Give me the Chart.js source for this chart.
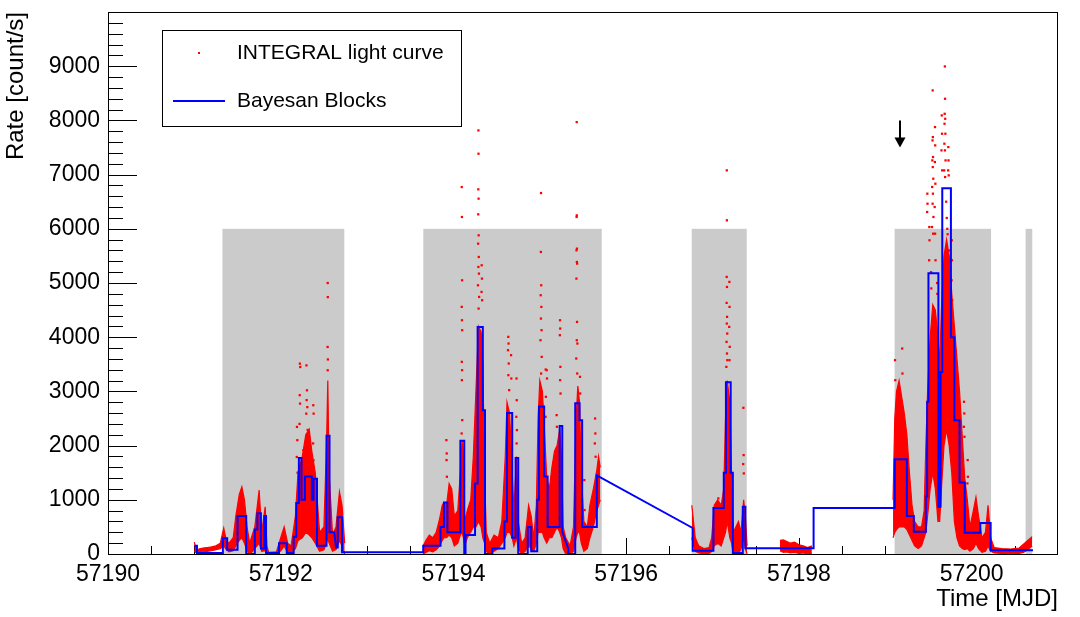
<!DOCTYPE html>
<html>
<head>
<meta charset="utf-8">
<title>INTEGRAL light curve</title>
<script src="https://cdn.jsdelivr.net/npm/chart.js@4.4.1/dist/chart.umd.min.js"></script>
<style>
  html, body { margin: 0; padding: 0; background: #fff; }
</style>
</head>
<body>
<canvas id="lcChart" width="1080" height="617"></canvas>
<script>
// axis labels
const xTickLabels = [57190, 57192, 57194, 57196, 57198, 57200];
const yTickLabels = [0, 1000, 2000, 3000, 4000, 5000, 6000, 7000, 8000, 9000];

// grey windows (MJD) drawn up to gtiTop
const gtiStart = [57191.325, 57193.651, 57196.759, 57199.108, 57200.625];
const gtiEnd = [57192.736, 57195.717, 57197.396, 57200.225, 57200.702];
const gtiTop = 6000;

// light curve: dense part read as a lower / upper envelope, null = no data
const lcTime = [
  57191.00, 57191.02, 57191.05, 57191.10, 57191.15, 57191.20, 57191.25, 57191.30, 57191.34, 57191.37,
  57191.40, 57191.45, 57191.48, 57191.52, 57191.55, 57191.58, 57191.61, 57191.64, 57191.67, 57191.70,
  57191.75, 57191.78, 57191.82, 57191.84, 57191.86, 57191.95, 57192.00, 57192.04, 57192.08, 57192.12,
  57192.17, 57192.20, 57192.25, 57192.29, 57192.33, 57192.36, 57192.40, 57192.45, 57192.50, 57192.53,
  57192.545, 57192.56, 57192.60, 57192.64, 57192.68, 57192.71, 57192.74,
  57193.20,
  57193.65, 57193.68, 57193.72, 57193.76, 57193.80, 57193.84, 57193.87, 57193.89, 57193.92, 57193.95,
  57193.98, 57194.01, 57194.05, 57194.08, 57194.10, 57194.115, 57194.13, 57194.16, 57194.20, 57194.23,
  57194.26, 57194.29, 57194.32, 57194.34, 57194.36, 57194.38, 57194.42, 57194.47, 57194.52, 57194.56,
  57194.60, 57194.62, 57194.65, 57194.68, 57194.70, 57194.73, 57194.75, 57194.79, 57194.83, 57194.87,
  57194.90, 57194.93, 57194.96, 57194.98, 57195.00, 57195.03, 57195.05, 57195.08, 57195.11, 57195.14,
  57195.17, 57195.20, 57195.23, 57195.25, 57195.27, 57195.30, 57195.35, 57195.39, 57195.42, 57195.44,
  57195.46, 57195.48, 57195.51, 57195.55, 57195.58, 57195.62, 57195.66, 57195.68, 57195.70,
  57196.20,
  57196.76, 57196.78, 57196.80, 57196.84, 57196.90, 57196.96, 57196.99, 57197.02, 57197.06, 57197.10,
  57197.13, 57197.15, 57197.17, 57197.20, 57197.22, 57197.24, 57197.27, 57197.30, 57197.33, 57197.36,
  57197.38, 57197.40,
  57197.60,
  57197.78, 57197.82, 57197.86, 57197.90, 57197.95, 57198.00, 57198.05, 57198.10, 57198.15,
  57198.60,
  57199.09, 57199.11, 57199.13, 57199.16, 57199.19, 57199.22, 57199.25, 57199.28, 57199.31, 57199.34,
  57199.38, 57199.42, 57199.45, 57199.47, 57199.49, 57199.52, 57199.55, 57199.58, 57199.61, 57199.63,
  57199.65, 57199.68, 57199.71, 57199.74, 57199.77, 57199.80, 57199.83, 57199.86, 57199.89, 57199.92,
  57199.95, 57199.98, 57200.02, 57200.05, 57200.08, 57200.12, 57200.16, 57200.19, 57200.22, 57200.26,
  57200.35, 57200.45, 57200.55, 57200.60, 57200.65, 57200.70
];
const lcLow = [
  60, 20, 30, 40, 50, 60, 80, 100, 150, 80,
  40, 60, 150, 250, 300, 200, 50, 0, 40, 100,
  200, 50, 60, 0, 0, 0, 60, 150, 20, 20,
  100, 250, 300, 400, 350, 300, 200, 50, 80, 200,
  300, 200, 50, 80, 250, 150, 0,
  null,
  0, 30, 60, 40, 80, 150, 250, 300, 300, 350,
  300, 150, 200, 350, 400, 300, 150, 300, 400, 500,
  500, 600, 500, 300, 200, 50, 0, 50, 100, 200,
  300, 400, 400, 300, 150, 300, 100, 0, 50, 150,
  100, 50, 200, 400, 400, 400, 300, 200, 300, 300,
  400, 500, 400, 300, 100, 0, 0, 50, 300, 400,
  400, 200, 50, 100, 300, 500, 800, 900, 1000,
  null,
  300, 150, 50, 20, 0, 10, 50, 150, 200, 150,
  300, 400, 600, 300, 200, 0, 50, 0, 100, 300,
  100, 0,
  null,
  60, 30, 40, 20, 30, 10, 20, 0, 10,
  null,
  300, 400, 450, 500, 500, 500, 450, 350, 250, 150,
  100, 150, 300, 400, 700, 1200, 1500, 1200, 600, 600,
  1200, 2000, 2300, 2000, 1500, 600, 300, 150, 100, 80,
  100, 50, 100, 200, 100, 30, 50, 150, 50, 20,
  10, 0, 10, 30, 80, 150
];
const lcHigh = [
  220, 80, 90, 110, 120, 130, 150, 200, 480, 250,
  200, 300, 700, 1100, 1240, 1000, 500, 200, 350, 500,
  1180, 400, 870, 150, 30, 40, 300, 500, 200, 150,
  700, 1500, 1800, 2200, 2300, 1900, 1500, 400, 500, 2000,
  3200, 1500, 350, 500, 1150, 900, 200,
  null,
  150, 250, 350, 300, 400, 650, 900, 950, 900, 1300,
  1200, 700, 800, 1500, 2100, 1800, 600, 800, 1000, 1800,
  3000, 4200, 4100, 3500, 1500, 400, 200, 350, 300, 600,
  1800, 2800, 2600, 1500, 800, 1800, 600, 200, 300, 900,
  700, 300, 900, 2500, 3200, 3000, 2400, 1400, 1200, 1600,
  1900, 2000, 2300, 1800, 500, 300, 150, 500, 2500, 3100,
  2800, 1500, 600, 500, 900, 1200, 1550, 1800, 1600,
  null,
  900, 600, 300, 150, 100, 120, 300, 900, 1000, 900,
  1200, 2500, 3200, 2800, 1500, 400, 500, 600, 400, 1000,
  700, 150,
  null,
  250, 260, 230, 200, 220, 170, 150, 120, 150,
  null,
  1000, 2500, 3000, 3200, 2900, 2600, 2200, 1500, 900, 600,
  500, 500, 800, 2000, 3000, 4000, 4600, 4500, 4000, 3500,
  4500, 5500, 5800, 5500, 4800, 4200, 3600, 3000, 2200, 1400,
  1000, 500, 800, 1050, 700, 300, 400, 900, 300, 120,
  100, 90, 110, 180, 250, 320
];

// light curve: isolated high points
const spikeTime = [
  57192.188, 57192.192, 57192.186, 57192.195, 57192.222, 57192.226, 57192.220, 57192.224, 57192.218, 57192.262,
  57192.298, 57192.304, 57192.300, 57192.308, 57192.296, 57192.312, 57192.377, 57192.381, 57192.375, 57192.379,
  57192.544, 57192.545, 57192.543, 57192.546, 57192.544,
  57193.918, 57193.922, 57193.920, 57193.924,
  57194.096, 57194.098, 57194.100, 57194.096, 57194.099, 57194.101, 57194.097, 57194.100, 57194.098, 57194.102, 57194.095,
  57194.289, 57194.290, 57194.288, 57194.291, 57194.287, 57194.292, 57194.286, 57194.293, 57194.289, 57194.295,
  57194.284, 57194.297, 57194.291, 57194.327, 57194.330, 57194.325, 57194.332,
  57194.635, 57194.638, 57194.632, 57194.640, 57194.636, 57194.645, 57194.667, 57194.670,
  57194.730, 57194.733, 57194.728, 57194.735, 57194.731,
  57195.014, 57195.012, 57195.016, 57195.010, 57195.018, 57195.013, 57195.020, 57195.008, 57195.022, 57195.015,
  57195.068, 57195.070, 57195.066, 57195.080, 57195.083,
  57195.234, 57195.236, 57195.232, 57195.238, 57195.235, 57195.240, 57195.195, 57195.198,
  57195.427, 57195.428, 57195.426, 57195.430, 57195.425, 57195.429, 57195.432, 57195.424, 57195.431, 57195.428,
  57195.435, 57195.422, 57195.433, 57195.465, 57195.468, 57195.640, 57195.643, 57195.637, 57195.646, 57195.515, 57195.518,
  57197.165, 57197.166, 57197.164, 57197.167, 57197.163, 57197.168, 57197.165, 57197.170, 57197.162, 57197.167,
  57197.171, 57197.160, 57197.195, 57197.197, 57197.193, 57197.199, 57197.196,
  57197.357, 57197.360, 57197.355, 57197.362, 57197.067, 57197.070,
  57199.113, 57199.116, 57199.196, 57199.199, 57199.487, 57199.489, 57199.485, 57199.510, 57199.512, 57199.508,
  57199.530, 57199.533, 57199.549, 57199.551, 57199.547, 57199.553, 57199.545, 57199.550, 57199.556, 57199.543,
  57199.552, 57199.548, 57199.558, 57199.541, 57199.554, 57199.576, 57199.578, 57199.574, 57199.580, 57199.572,
  57199.577, 57199.582, 57199.600, 57199.603, 57199.654, 57199.657, 57199.651, 57199.659,
  57199.690, 57199.692, 57199.688, 57199.694, 57199.686, 57199.696, 57199.684, 57199.691, 57199.698, 57199.682,
  57199.693, 57199.705, 57199.712, 57199.718, 57199.722, 57199.740, 57199.730, 57199.732, 57199.728, 57199.735,
  57199.770, 57199.772, 57199.768, 57199.775, 57199.771, 57199.808, 57199.810, 57199.806, 57199.812,
  57199.912, 57199.915, 57199.910, 57199.917, 57199.954, 57199.957, 57199.951
];
const spikeRate = [
  2345, 2100, 1790, 1500, 3512, 3450, 2930, 2775, 2400, 1915,
  3480, 3020, 2840, 2710, 2590, 2290, 2745, 2590, 2040, 1730,
  5000, 4740, 3820, 3590, 3390,
  2101, 1855, 1733, 1425,
  6770, 6218, 5050, 4560, 4313, 4129, 3545, 3391, 3207, 2470, 2224,
  7815, 7385, 6728, 6556, 6267, 5880, 5726, 5480, 5296, 5173,
  4958, 4743, 4528, 5327, 5081, 4835, 4682,
  4006, 3883, 3760, 3514, 3299, 3023, 3668, 3238,
  3238, 2838, 2531, 2286, 2040,
  6660, 5573, 4958, 4774, 4559, 4344, 4129, 3944, 3637, 3330,
  3404, 2900, 2531, 3391, 3238,
  4313, 4160, 4037, 3453, 3207, 2961, 2562, 2347,
  7969, 6248, 6218, 5634, 5603, 5388, 5358, 5081, 4282, 3944,
  3883, 3607, 3330, 3269, 2961, 2500, 2224, 2040, 1794, 1364, 811,
  7078, 6156, 5112, 4927, 4633, 4375, 4252, 4067, 3914, 3699,
  3576, 3453, 5020, 4559, 4190, 3822, 3576,
  2697, 1825, 1659, 1487, 1026, 872,
  3576, 3207, 3791, 3330, 6648, 6463, 6310, 6033, 5788, 5419,
  5200, 4900, 8553, 7692, 7631, 7324, 7262, 7139, 6924, 6771,
  6648, 6463, 6218, 6033, 5910, 7877, 7539, 7232, 6832, 6402,
  5910, 5419, 5000, 4800, 8092, 7754, 7447, 7078,
  8995, 8399, 8122, 8030, 7938, 7754, 7570, 7447, 7262, 7078,
  6955, 6500, 6200, 6000, 5900, 5600, 7508, 7262, 7078, 6986,
  5788, 5419, 5050, 4682, 4190, 3760, 3576, 3207, 2961,
  2808, 2593, 2347, 2163, 1733, 1425, 1302
];

// Bayesian blocks, drawn as a polyline (steps = repeated times)
const bbTime = [
  57191.00, 57191.03, 57191.03, 57191.33, 57191.33, 57191.38, 57191.38, 57191.50, 57191.50, 57191.60,
  57191.60, 57191.70, 57191.70, 57191.73, 57191.73, 57191.77, 57191.77, 57191.81, 57191.81, 57191.83,
  57191.83, 57191.98, 57191.98, 57192.07, 57192.07, 57192.15, 57192.15, 57192.18, 57192.18, 57192.21,
  57192.21, 57192.24, 57192.24, 57192.28, 57192.28, 57192.36, 57192.36, 57192.38, 57192.38, 57192.42,
  57192.42, 57192.53, 57192.53, 57192.565, 57192.565, 57192.62, 57192.64, 57192.66, 57192.66, 57192.71,
  57192.71, 57193.65, 57193.65, 57193.85, 57193.85, 57193.89, 57193.89, 57193.93, 57193.93, 57194.08,
  57194.08, 57194.125, 57194.125, 57194.14, 57194.14, 57194.25, 57194.25, 57194.28, 57194.28, 57194.34,
  57194.34, 57194.365, 57194.365, 57194.45, 57194.45, 57194.59, 57194.59, 57194.62, 57194.62, 57194.68,
  57194.68, 57194.72, 57194.72, 57194.75, 57194.75, 57194.86, 57194.86, 57194.90, 57194.90, 57194.97,
  57194.97, 57194.99, 57194.99, 57195.05, 57195.05, 57195.09, 57195.09, 57195.23, 57195.23, 57195.26,
  57195.26, 57195.33, 57195.33, 57195.41, 57195.41, 57195.46, 57195.46, 57195.49, 57195.49, 57195.66,
  57195.66, 57196.77, 57196.77, 57197.01, 57197.01, 57197.13, 57197.13, 57197.155, 57197.155, 57197.21,
  57197.21, 57197.235, 57197.235, 57197.35, 57197.35, 57197.38, 57197.38, 57198.17, 57198.17, 57199.11,
  57199.11, 57199.25, 57199.25, 57199.33, 57199.33, 57199.47, 57199.47, 57199.485, 57199.485, 57199.50,
  57199.50, 57199.615, 57199.615, 57199.64, 57199.64, 57199.66, 57199.66, 57199.76, 57199.76, 57199.80,
  57199.80, 57199.86, 57199.86, 57199.92, 57199.92, 57200.10, 57200.10, 57200.22, 57200.22, 57200.71
];
const bbRate = [
  150, 150, 20, 20, 290, 290, 80, 80, 700, 700,
  0, 0, 450, 450, 750, 750, 100, 100, 700, 700,
  20, 20, 200, 200, 20, 20, 320, 320, 940, 940,
  1770, 1770, 1000, 1000, 1430, 1430, 1000, 1000, 1390, 1390,
  150, 150, 2180, 2180, 400, 400, 120, 120, 680, 680,
  30, 30, 150, 150, 500, 500, 950, 950, 400, 400,
  2090, 2090, 0, 0, 350, 350, 1300, 1300, 4190, 4190,
  2650, 2650, 0, 0, 100, 100, 600, 600, 2600, 2600,
  300, 300, 1770, 1770, 0, 0, 500, 500, 50, 50,
  1000, 1000, 2720, 2720, 1430, 1430, 500, 500, 2360, 2360,
  410, 100, 0, 0, 2780, 2780, 2470, 2470, 500, 500,
  1450, 480, 60, 60, 850, 850, 1500, 1500, 3170, 3170,
  1500, 1500, 20, 20, 870, 870, 105, 105, 850, 850,
  1750, 1750, 700, 700, 410, 410, 1060, 1060, 2810, 2810,
  5180, 5180, 870, 870, 3360, 3360, 6750, 6750, 4000, 4000,
  2470, 2470, 1320, 1320, 390, 390, 570, 570, 70, 70
];

// arrow marker
const arrowTime = 57199.17;
const arrowFrom = 8000;
const arrowTo = 7500;

const FONT = "'Liberation Sans', Arial, Helvetica, sans-serif";

const rootFrame = {
    id: 'rootFrame',
    beforeDatasetsDraw(chart) {
        const { ctx, chartArea: a, scales: { x, y } } = chart;
        ctx.save();
        ctx.strokeStyle = '#000';
        ctx.lineWidth = 1;
        ctx.strokeRect(a.left + 0.5, a.top + 0.5, a.right - a.left - 1, a.bottom - a.top);

        // tick marks point inwards, like ROOT
        ctx.beginPath();
        x.ticks.forEach(t => {
            if (t.value <= x.min || t.value >= x.max) return;
            const px = Math.round(x.getPixelForValue(t.value)) + 0.5;
            const len = xTickLabels.includes(t.value) ? 16 : 8;
            ctx.moveTo(px, a.bottom);
            ctx.lineTo(px, a.bottom - len);
        });
        y.ticks.forEach(t => {
            if (t.value <= y.min || t.value >= y.max) return;
            const py = Math.round(y.getPixelForValue(t.value)) + 0.5;
            const len = yTickLabels.includes(t.value) ? 29 : 15;
            ctx.moveTo(a.left, py);
            ctx.lineTo(a.left + len, py);
        });
        ctx.stroke();

        ctx.fillStyle = '#cbcbcb';
        const yt = y.getPixelForValue(gtiTop);
        const yb = y.getPixelForValue(0);
        gtiStart.forEach((s, i) => {
            const x0 = x.getPixelForValue(s);
            const x1 = x.getPixelForValue(gtiEnd[i]);
            ctx.fillRect(x0, yt, x1 - x0, yb - yt);
        });
        ctx.restore();
    },
    afterDatasetsDraw(chart) {
        const { ctx, scales: { x, y } } = chart;
        ctx.save();

        // arrow
        const ax = Math.round(x.getPixelForValue(arrowTime));
        const ay0 = y.getPixelForValue(arrowFrom);
        const ay1 = y.getPixelForValue(arrowTo);
        ctx.strokeStyle = '#000';
        ctx.fillStyle = '#000';
        ctx.lineWidth = 2;
        ctx.beginPath();
        ctx.moveTo(ax, ay0);
        ctx.lineTo(ax, ay1 - 8);
        ctx.stroke();
        ctx.beginPath();
        ctx.moveTo(ax - 5.5, ay1 - 10);
        ctx.lineTo(ax + 5.5, ay1 - 10);
        ctx.lineTo(ax, ay1);
        ctx.closePath();
        ctx.fill();

        // legend box
        ctx.fillStyle = '#fff';
        ctx.fillRect(162, 30, 299, 96);
        ctx.lineWidth = 1;
        ctx.strokeRect(162.5, 30.5, 299, 96);
        ctx.fillStyle = '#ff0000';
        ctx.fillRect(198, 52, 2, 2);
        ctx.strokeStyle = '#0000ff';
        ctx.lineWidth = 2;
        ctx.beginPath();
        ctx.moveTo(173, 101);
        ctx.lineTo(225, 101);
        ctx.stroke();
        ctx.fillStyle = '#000';
        ctx.font = '21px ' + FONT;
        ctx.textBaseline = 'middle';
        ctx.fillText(chart.data.datasets[2].label, 237, 53);
        ctx.fillText(chart.data.datasets[0].label, 237, 101);
        ctx.restore();
    }
};

const ctx = document.getElementById('lcChart').getContext('2d');
new Chart(ctx, {
    type: 'line',
    data: {
        datasets: [{
            label: 'Bayesan Blocks',
            data: bbTime.map((t, i) => ({ x: t, y: bbRate[i] })),
            borderColor: '#0000ff',
            borderWidth: 2,
            pointRadius: 0,
            tension: 0,
            order: 0
        }, {
            label: 'lc low',
            data: lcTime.map((t, i) => ({ x: t, y: lcLow[i] })),
            borderColor: '#ff0000',
            borderWidth: 1.2,
            pointRadius: 0,
            fill: false,
            spanGaps: false,
            order: 2
        }, {
            label: 'INTEGRAL light curve',
            data: lcTime.map((t, i) => ({ x: t, y: lcHigh[i] })),
            borderColor: '#ff0000',
            backgroundColor: '#ff0000',
            borderWidth: 1.2,
            pointRadius: 0,
            fill: '-1',
            spanGaps: false,
            order: 2
        }, {
            label: 'lc spikes',
            data: spikeTime.map((t, i) => ({ x: t, y: spikeRate[i] })),
            showLine: false,
            pointStyle: 'rect',
            pointRadius: 1.6,
            pointBorderWidth: 0,
            pointBackgroundColor: '#ff0000',
            order: 1
        }]
    },
    options: {
        responsive: false,
        animation: false,
        events: [],
        layout: { padding: { left: 0, right: 22, top: 12, bottom: 0 } },
        plugins: {
            legend: { display: false },
            tooltip: { enabled: false }
        },
        scales: {
            x: {
                type: 'linear',
                min: 57190,
                max: 57201,
                grid: { display: false, drawTicks: false },
                border: { display: false },
                ticks: {
                    stepSize: 0.5,
                    autoSkip: false,
                    maxRotation: 0,
                    padding: 7,
                    color: '#000',
                    font: { family: FONT, size: 23 },
                    // empty string keeps the minor tick in the scale
                    callback: v => xTickLabels.includes(v) ? String(v) : ''
                },
                title: {
                    display: true,
                    text: 'Time [MJD]',
                    align: 'end',
                    color: '#000',
                    font: { family: FONT, size: 24 },
                    padding: { top: 0, bottom: 3 }
                },
                afterFit: s => { s.height = 63; s.paddingLeft = 0; s.paddingRight = 0; }
            },
            y: {
                min: 0,
                max: 10000,
                grid: { display: false, drawTicks: false },
                border: { display: false },
                ticks: {
                    stepSize: 200,
                    autoSkip: false,
                    padding: 8,
                    color: '#000',
                    font: { family: FONT, size: 23 },
                    callback: v => yTickLabels.includes(v) ? String(v) : ''
                },
                title: {
                    display: true,
                    text: 'Rate [count/s]',
                    align: 'end',
                    color: '#000',
                    font: { family: FONT, size: 24 },
                    padding: { top: 2, bottom: 0 }
                },
                afterFit: s => { s.width = 108; s.paddingTop = 0; s.paddingBottom = 0; }
            }
        }
    },
    plugins: [rootFrame]
});
</script>
</body>
</html>
